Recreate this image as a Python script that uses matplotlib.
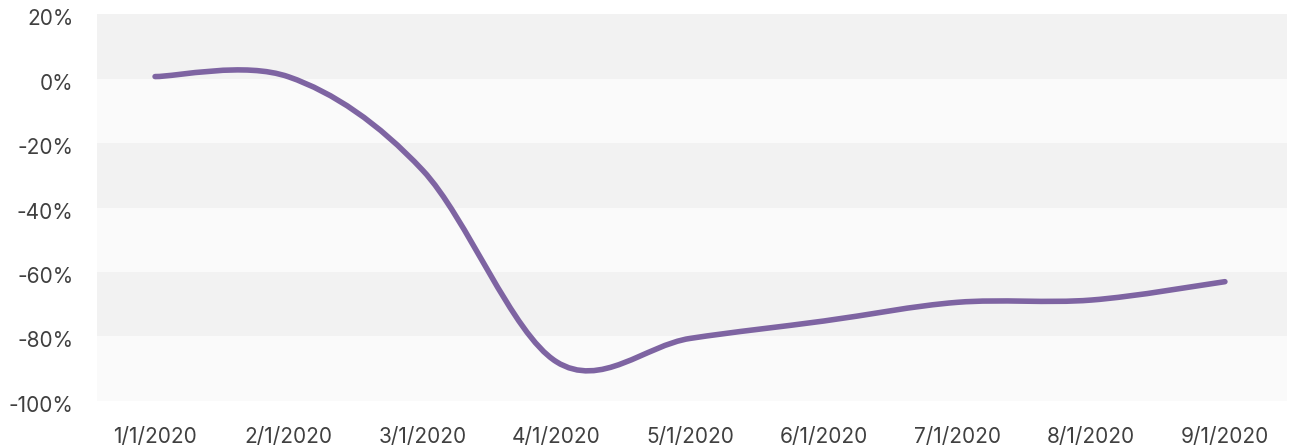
import matplotlib
matplotlib.use("Agg")
import matplotlib.pyplot as plt
import matplotlib.transforms as mtransforms
from matplotlib.path import Path
from matplotlib.patches import PathPatch
from matplotlib.ticker import FuncFormatter
import numpy as np

# Data (monthly, % change)
months = ['1/1/2020', '2/1/2020', '3/1/2020', '4/1/2020', '5/1/2020',
          '6/1/2020', '7/1/2020', '8/1/2020', '9/1/2020']
values = [0.6, 0.5, -28.4, -87.8, -80.6, -75.2, -69.4, -68.7, -63.0]
y_ticks = [20, 0, -20, -40, -60, -80, -100]

LINE_COLOR = '#7E64A2'
BAND_DARK = '#F2F2F2'
BAND_LIGHT = '#FAFAFA'
TEXT_COLOR = '#404040'

plt.rcParams['font.family'] = ['Inter', 'DejaVu Sans']

fig = plt.figure(figsize=(12.92, 4.46), dpi=100)
ax = fig.add_axes([0.0751, 0.1009, 0.921, 0.8677])

# alternating horizontal bands
for i in range(len(y_ticks) - 1):
    ax.axhspan(y_ticks[i + 1], y_ticks[i],
               color=BAND_DARK if i % 2 == 0 else BAND_LIGHT, lw=0, zorder=0)

# smoothed line (Catmull-Rom style bezier, like a spreadsheet "smoothed line")
x = np.arange(len(values), dtype=float)
y = np.array(values, dtype=float)
px = np.concatenate([[x[0]], x, [x[-1]]])
py = np.concatenate([[y[0]], y, [y[-1]]])
verts = [(x[0], y[0])]
codes = [Path.MOVETO]
for i in range(len(x) - 1):
    c1 = (x[i] + (px[i + 2] - px[i]) / 6, y[i] + (py[i + 2] - py[i]) / 6)
    c2 = (x[i + 1] - (px[i + 3] - px[i + 1]) / 6, y[i + 1] - (py[i + 3] - py[i + 1]) / 6)
    verts += [c1, c2, (x[i + 1], y[i + 1])]
    codes += [Path.CURVE4] * 3
patch = PathPatch(Path(verts, codes), facecolor='none', edgecolor=LINE_COLOR,
                  lw=4, capstyle='round', joinstyle='round', zorder=3)
ax.add_patch(patch)

ax.set_xlim(-0.434, 8.464)
ax.set_ylim(-100, 20)
ax.set_xticks(x)
ax.set_xticklabels(months)
ax.set_yticks(y_ticks)
ax.yaxis.set_major_formatter(FuncFormatter(lambda v, p: '{:.0f}%'.format(v)))

ax.tick_params(axis='both', length=0, labelsize=15, labelcolor=TEXT_COLOR)
ax.tick_params(axis='y', pad=17)
ax.tick_params(axis='x', pad=19)
for lab in ax.get_yticklabels():
    lab.set_transform(lab.get_transform() +
                      mtransforms.ScaledTranslation(0, -3 / 100, fig.dpi_scale_trans))

for s in ax.spines.values():
    s.set_visible(False)

fig.savefig('out.png', dpi=100, facecolor='white')
